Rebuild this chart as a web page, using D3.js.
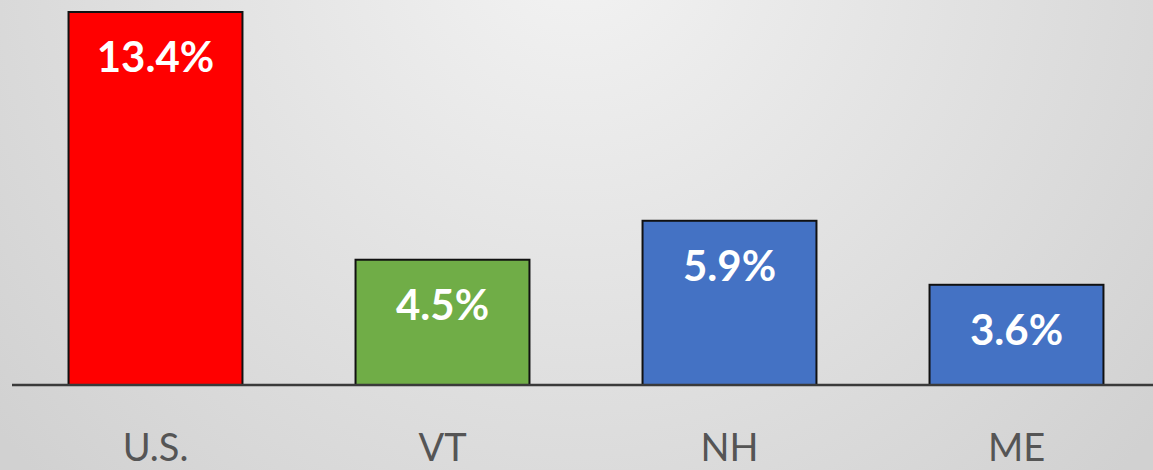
<!DOCTYPE html>
<html>
<head>
<meta charset="utf-8">
<script src="https://cdn.jsdelivr.net/npm/d3@7"></script>
<style>
  html, body { margin: 0; padding: 0; overflow: hidden; }
  svg { display: block; }
</style>
</head>
<body>
<svg id="chart" width="1153" height="470"></svg>
<script>
// data
const categories = ['U.S.', 'VT', 'NH', 'ME'];
const values = [13.4, 4.5, 5.9, 3.6];
const valueLabels = ['13.4%', '4.5%', '5.9%', '3.6%'];
const barColors = ['#ff0000', '#70ad47', '#4472c4', '#4472c4'];

const width = 1153, height = 470;
const svg = d3.select('#chart');

// background: light top-centre glow fading to grey
const defs = svg.append('defs');
const grad = defs.append('radialGradient')
  .attr('id', 'bg')
  .attr('gradientUnits', 'userSpaceOnUse')
  .attr('cx', width / 2).attr('cy', -60)
  .attr('r', 760);
grad.append('stop').attr('offset', '0%').attr('stop-color', '#f3f3f3');
grad.append('stop').attr('offset', '50%').attr('stop-color', '#e2e2e2');
grad.append('stop').attr('offset', '100%').attr('stop-color', '#d1d1d1');

svg.append('rect')
  .attr('width', width).attr('height', height)
  .attr('fill', 'url(#bg)');

const baseY = 385;

const x = d3.scaleBand()
  .domain(categories)
  .range([12, 1160])
  .paddingInner(0.394)
  .paddingOuter(0.197);

const y = d3.scaleLinear()
  .domain([0, 13.4])
  .range([baseY, 12]);

const rows = categories.map((c, i) => ({ cat: c, v: values[i], label: valueLabels[i], color: barColors[i] }));

// bars
svg.selectAll('.bar')
  .data(rows)
  .enter()
  .append('rect')
  .attr('class', 'bar')
  .attr('x', d => x(d.cat))
  .attr('y', d => y(d.v))
  .attr('width', x.bandwidth())
  .attr('height', d => baseY - y(d.v))
  .attr('fill', d => d.color)
  .attr('stroke', '#111')
  .attr('stroke-width', 2);

// baseline
svg.append('line')
  .attr('x1', 12).attr('x2', width)
  .attr('y1', baseY).attr('y2', baseY)
  .attr('stroke', '#3a3a3a')
  .attr('stroke-width', 2.5);

// value labels inside bars
svg.selectAll('.val')
  .data(rows)
  .enter()
  .append('text')
  .attr('class', 'val')
  .attr('x', d => x(d.cat) + x.bandwidth() / 2)
  .attr('y', d => y(d.v) + 60)
  .attr('text-anchor', 'middle')
  .style('font-family', 'Lato, "Open Sans", sans-serif')
  .style('font-weight', 'bold')
  .style('font-size', '42px')
  .style('fill', '#ffffff')
  .text(d => d.label);

// category labels
svg.selectAll('.cat')
  .data(rows)
  .enter()
  .append('text')
  .attr('class', 'cat')
  .attr('x', d => x(d.cat) + x.bandwidth() / 2)
  .attr('y', 461)
  .attr('text-anchor', 'middle')
  .style('font-family', 'Lato, "Open Sans", sans-serif')
  .style('font-size', '38px')
  .style('fill', '#555555')
  .text(d => d.cat);
</script>
</body>
</html>
